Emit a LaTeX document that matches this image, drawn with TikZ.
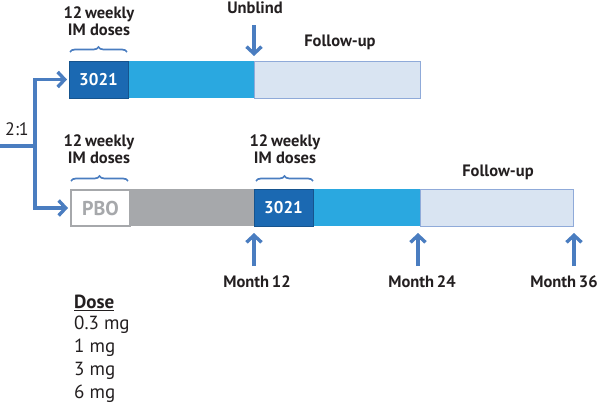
\documentclass[tikz,border=0pt]{standalone}
\usepackage{fontspec}
\setmainfont{PT Sans}
\usetikzlibrary{arrows.meta,decorations.pathreplacing}
\definecolor{darkblue}{HTML}{1B69B2}
\definecolor{midblue}{HTML}{2AA8E0}
\definecolor{lightblue}{HTML}{D9E4F2}
\definecolor{lightedge}{HTML}{8FAAD9}
\definecolor{barGray}{HTML}{A6A8AB}
\definecolor{arrowblue}{HTML}{4A7DC0}
\definecolor{txt}{HTML}{231F20}
\tikzset{
  seg/.style={draw=none, minimum height=37pt, inner sep=0pt, outer sep=0pt, anchor=north west},
  lbl/.style={font=\bfseries\fontsize{16.5}{17}\selectfont, text=txt, align=center, inner sep=0pt},
  conn/.style={draw=arrowblue, line width=3.4pt, -{Straight Barb[length=7pt,width=15pt,line width=3.4pt]}},
  brc/.style={draw=arrowblue, line width=1.7pt, decorate, decoration={brace, amplitude=5pt}},
  dose/.style={font=\fontsize{19}{20}\selectfont, text=txt, anchor=west, inner sep=0pt}
}
\begin{document}
\begin{tikzpicture}[x=1pt,y=-1pt]
\useasboundingbox (0,0) rectangle (600,407);
% top bar
\node[seg, fill=lightblue, draw=lightedge, line width=1pt, minimum width=166pt] (topfu) at (254,61) {};
\node[seg, fill=midblue, minimum width=126pt] (topblue) at (128,61) {};
\node[seg, fill=darkblue, draw=darkblue!80!black, line width=1pt, minimum width=59pt, text=white, font=\bfseries\fontsize{17}{17}\selectfont] (top3021) at (69,61) {3021};
% bottom bar
\node[seg, fill=lightblue, draw=lightedge, line width=1pt, minimum width=153pt] (botfu) at (420,189) {};
\node[seg, fill=midblue, minimum width=107pt] (botblue) at (313,189) {};
\node[seg, fill=barGray, minimum width=124pt] (botgray) at (130,189) {};
\node[seg, fill=darkblue, draw=darkblue!80!black, line width=1pt, minimum width=59pt, text=white, font=\bfseries\fontsize{17}{17}\selectfont] (bot3021) at (254,189) {3021};
\node[seg, fill=white, draw=barGray, line width=2pt, minimum width=59pt, minimum height=36pt, text=barGray, font=\bfseries\fontsize{20}{20}\selectfont] (pbo) at (71,190) {PBO};
% braces
\draw[brc] (70,52) -- (127,52);
\draw[brc] (71,181) -- (128,181);
\draw[brc] (256,181) -- (313,181);
% dose labels
\node[lbl] (d1) at (99,21) {12\,weekly\\IM doses};
\node[lbl] (d2) at (99,149) {12\,weekly\\IM doses};
\node[lbl] (d3) at (285,149) {12\,weekly\\IM doses};
% follow-up labels
\node[lbl] (fu1) at (340,42) {Follow-up};
\node[lbl] (fu2) at (498,172) {Follow-up};
% unblind
\node[lbl] (unb) at (255,8) {Unblind};
\coordinate (unbtop) at (254,25);
\coordinate (unbend) at (254,56);
\draw[conn] (unbtop) -- (unbend);
% randomisation
\node[lbl, font=\fontsize{18}{18}\selectfont] (ratio) at (17,129) {2:1};
\coordinate (rin) at (0,146);
\coordinate (split) at (35,146);
\draw[draw=arrowblue, line width=3.4pt] (rin) -- (split);
\draw[conn] (split) |- ([xshift=-2pt]top3021.west);
\draw[conn] (split) |- ([xshift=-3pt]pbo.west);
% month markers
\node[lbl] (m12) at (257,282) {Month\,12};
\node[lbl] (m24) at (422,282) {Month\,24};
\node[lbl] (m36) at (564,282) {Month\,36};
\coordinate (a12) at (254,266);
\coordinate (a24) at (418,266);
\coordinate (a36) at (574,266);
\draw[conn] (a12) -- (254,233);
\draw[conn] (a24) -- (418,233);
\draw[conn] (a36) -- (574,233);
% dose list
\node[dose, font=\bfseries\fontsize{19}{20}\selectfont] (dh) at (74,303) {\underline{Dose}};
\node[dose] (l1) at (74,325) {0.3 mg};
\node[dose] (l2) at (74,348) {1 mg};
\node[dose] (l3) at (74,371) {3 mg};
\node[dose] (l4) at (74,394) {6 mg};
\end{tikzpicture}
\end{document}
